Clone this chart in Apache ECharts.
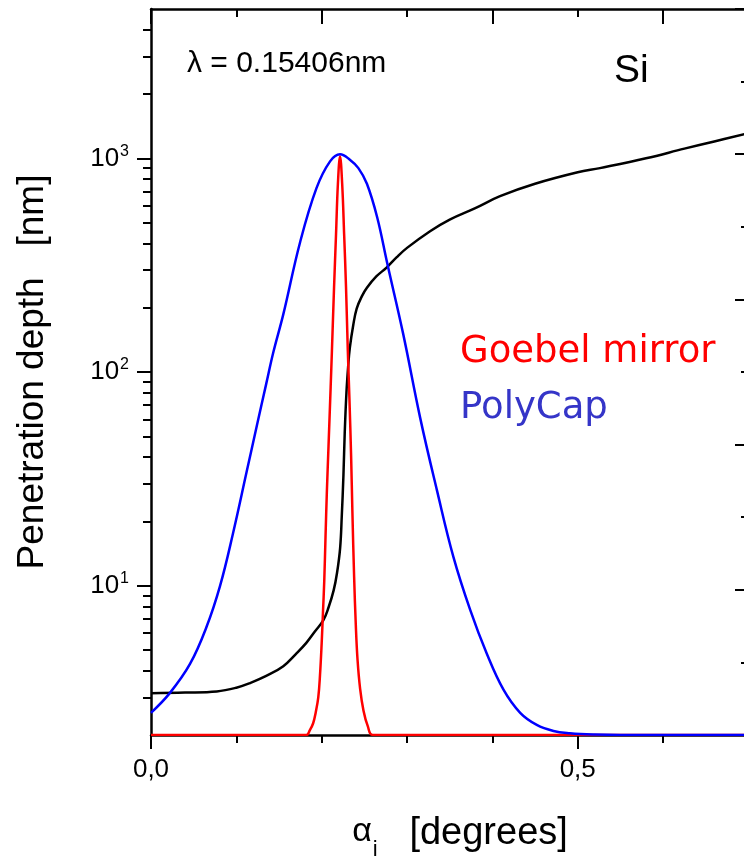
<!DOCTYPE html>
<html>
<head>
<meta charset="utf-8">
<script src="https://cdn.jsdelivr.net/npm/echarts@6/dist/echarts.min.js"></script>
<style>
  html, body { margin: 0; padding: 0; background: #fff; }
  #chart { width: 744px; height: 860px; }
</style>
</head>
<body>
<div id="chart"></div>
<script>
// penetration depth of Si (black)
var siX = [0, 0.04, 0.077, 0.1, 0.116, 0.135, 0.155, 0.17, 0.182, 0.192, 0.202, 0.208, 0.214, 0.218, 0.2216,
  0.2235, 0.2255, 0.227, 0.229, 0.231, 0.233, 0.237, 0.241, 0.247, 0.253, 0.264, 0.276, 0.288, 0.3,
  0.327, 0.35, 0.38, 0.409, 0.45, 0.5, 0.526, 0.58, 0.625, 0.66, 0.696];
var siY = [3.14, 3.16, 3.2, 3.33, 3.5, 3.78, 4.2, 4.8, 5.4, 6.1, 6.9, 7.9, 9.5, 11.5, 15,
  21, 33, 52, 80, 106, 130, 166, 198, 226, 248, 280, 308, 345, 381,
  456, 517, 585, 665, 760, 860, 900, 1000, 1110, 1200, 1300];

// Goebel mirror (red)
var goebelX = [0, 0.182, 0.186, 0.19, 0.193, 0.196, 0.198, 0.2, 0.2015, 0.203, 0.2045, 0.206, 0.208, 0.2105,
  0.212, 0.2145, 0.2168, 0.219, 0.2215, 0.224, 0.2263, 0.2285, 0.2306, 0.2325, 0.2345, 0.236, 0.238,
  0.24, 0.242, 0.245, 0.249, 0.254, 0.26, 0.696];
var goebelY = [2, 2, 2.1, 2.27, 2.55, 3.0, 3.8, 5.4, 7.5, 10.5, 17, 27, 45, 85,
  126, 250, 441, 760, 1020, 760, 441, 250, 126, 75, 40, 22, 11,
  6.5, 4.5, 3.3, 2.6, 2.2, 2, 2];

// PolyCap (blue)
var polyX = [0, 0.022, 0.0457, 0.065, 0.081, 0.096, 0.112, 0.124, 0.135, 0.1434, 0.155, 0.1747, 0.194,
  0.2098, 0.2215, 0.233, 0.243, 0.253, 0.265, 0.277, 0.2956, 0.3154, 0.335, 0.3544, 0.374, 0.3935,
  0.413, 0.4326, 0.452, 0.4716, 0.491, 0.52, 0.55, 0.696];
var polyY = [2.54, 3.14, 4.3, 6.4, 10, 17.5, 34, 56, 88, 124, 186, 405, 727,
  968, 1045, 986, 900, 760, 530, 320, 150, 61, 28, 13.6, 7.7, 4.8,
  3.26, 2.54, 2.23, 2.09, 2.04, 2.01, 2, 2];

var yMajor = [10, 100, 1000];
var yMinor = [3, 4, 5, 6, 7, 8, 9, 20, 30, 40, 50, 60, 70, 80, 90,
  200, 300, 400, 500, 600, 700, 800, 900, 2000, 3000, 4000];

function pairs(xs, ys) {
  return xs.map(function (x, i) { return [x, ys[i]]; });
}

var chart = echarts.init(document.getElementById("chart"));
var font = "Liberation Sans";
var tickLine = { color: "#000", width: 2 };

chart.setOption({
  animation: false,
  backgroundColor: "#fff",
  grid: { left: 151, right: -1, top: 9, bottom: 125, outerBoundsMode: "none" },
  xAxis: [
    {
      type: "value",
      position: "bottom",
      min: 0,
      max: 0.696,
      interval: 0.5,
      axisLine: { lineStyle: { color: "#000", width: 2.5 } },
      axisTick: { inside: false, length: 14, lineStyle: tickLine },
      minorTick: { show: true, splitNumber: 5, length: 8, lineStyle: tickLine },
      splitLine: { show: false },
      axisLabel: {
        margin: 22,
        showMaxLabel: false,
        color: "#000",
        fontFamily: font,
        fontSize: 26,
        formatter: function (v) { return v.toFixed(1).replace(".", ","); }
      },
      name: "{g|α}{sub|i}{t|   [degrees]}",
      nameLocation: "middle",
      nameGap: 80,
      nameTextStyle: {
        padding: [0, 0, 0, 24],
        rich: {
          g: { fontFamily: font, fontSize: 34, color: "#000", lineHeight: 46, verticalAlign: "top" },
          sub: { fontFamily: font, fontSize: 22, color: "#000", lineHeight: 22,
                 verticalAlign: "bottom", padding: [0, 0, 0, 1] },
          t: { fontFamily: font, fontSize: 38, color: "#000", lineHeight: 46, verticalAlign: "top" }
        }
      }
    },
    {
      type: "value",
      position: "top",
      min: 0,
      max: 0.696,
      interval: 0.2,
      axisLine: { lineStyle: { color: "#000", width: 2.5 } },
      axisTick: { inside: true, length: 15, lineStyle: tickLine },
      minorTick: { show: true, splitNumber: 2, length: 8, lineStyle: tickLine },
      splitLine: { show: false },
      axisLabel: { show: false }
    }
  ],
  yAxis: [
    {
      type: "log",
      logBase: 10,
      position: "left",
      min: 2,
      max: 5000,
      axisLine: { lineStyle: { color: "#000", width: 2.5 } },
      axisTick: { inside: false, length: 14, customValues: yMajor, lineStyle: tickLine },
      splitLine: { show: false },
      axisLabel: {
        customValues: yMajor,
        margin: 22,
        formatter: function (v) {
          return "{b|10}{s|" + Math.round(Math.log10(v)) + "}";
        },
        rich: {
          b: { fontFamily: font, fontSize: 26, color: "#000", lineHeight: 30 },
          s: { fontFamily: font, fontSize: 16, color: "#000", verticalAlign: "top", padding: [0, 0, 12, 1] }
        }
      },
      name: "Penetration depth   [nm]",
      nameLocation: "middle",
      nameRotate: 90,
      nameGap: 100,
      nameTextStyle: { fontFamily: font, fontSize: 37, color: "#000" }
    },
    {
      type: "log",
      logBase: 10,
      position: "left",
      min: 2,
      max: 5000,
      axisLine: { show: false },
      axisTick: { inside: false, length: 8, customValues: yMinor, lineStyle: tickLine },
      splitLine: { show: false },
      axisLabel: { show: false }
    },
    {
      type: "value",
      position: "right",
      min: 0,
      max: 5,
      interval: 1,
      axisLine: { show: false },
      axisTick: { inside: true, length: 10, lineStyle: tickLine },
      minorTick: { show: true, splitNumber: 2, length: 4, lineStyle: tickLine },
      splitLine: { show: false },
      axisLabel: { show: false }
    }
  ],
  series: [
    {
      name: "Si",
      type: "line",
      data: pairs(siX, siY),
      showSymbol: false,
      smooth: 0.4,
      lineStyle: { color: "#000", width: 2.5 }
    },
    {
      name: "Goebel mirror",
      type: "line",
      data: pairs(goebelX, goebelY),
      showSymbol: false,
      smooth: 0.4,
      lineStyle: { color: "#ff0000", width: 2.5 }
    },
    {
      name: "PolyCap",
      type: "line",
      data: pairs(polyX, polyY),
      showSymbol: false,
      smooth: 0.4,
      lineStyle: { color: "#0000ff", width: 2.5 }
    }
  ],
  graphic: [
    {
      type: "text", left: 187, top: 49,
      style: { text: "λ = 0.15406nm", font: "30px 'Liberation Sans'", fill: "#000" }
    },
    {
      type: "text", left: 614, top: 52,
      style: { text: "Si", font: "39px 'Liberation Sans'", fill: "#000" }
    },
    {
      type: "text", left: 460, top: 334,
      style: { text: "Goebel mirror", font: "37px 'DejaVu Sans'", fill: "#ff0000" }
    },
    {
      type: "text", left: 460, top: 390,
      style: { text: "PolyCap", font: "37px 'DejaVu Sans'", fill: "#3535c8" }
    }
  ]
});
</script>
</body>
</html>
